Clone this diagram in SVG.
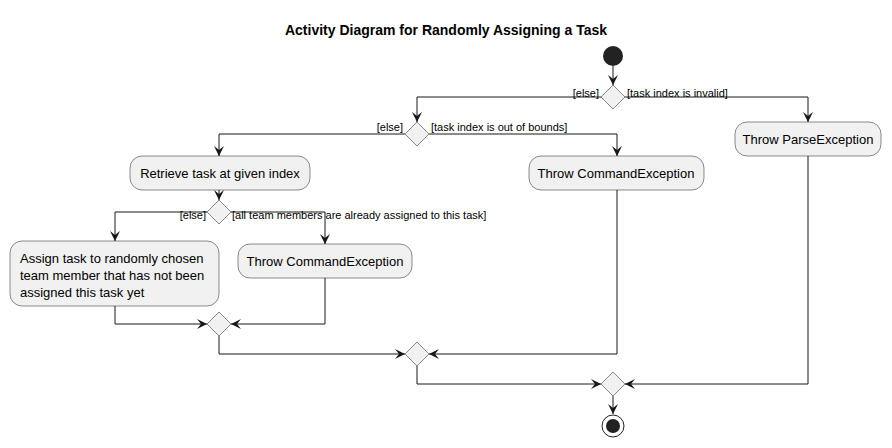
<svg xmlns="http://www.w3.org/2000/svg" width="892" height="448" viewBox="0 0 892 448">
<defs>
<style>
.t{font-family:"Liberation Sans",Arial,sans-serif;font-size:13px;fill:#000}
.g{font-family:"Liberation Sans",Arial,sans-serif;font-size:11px;fill:#000}
.b{fill:#F1F1F1;stroke:#181818;stroke-width:0.5}
.c{fill:none;stroke:#181818;stroke-width:1}
</style>
<marker id="a" viewBox="0 0 10 10" refX="10" refY="5" markerWidth="10" markerHeight="10" markerUnits="userSpaceOnUse" orient="auto"><path d="M0,0 L10,5 L0,10 L4,5 Z" fill="#181818"/></marker>
</defs>
<rect width="892" height="448" fill="#fff"/>
<text x="446" y="35" text-anchor="middle" style="font-family:'Liberation Sans',Arial,sans-serif;font-size:14px;font-weight:bold">Activity Diagram for Randomly Assigning a Task</text>
<g id="connectors" class="c">
<path d="M613,66 V85" marker-end="url(#a)"/>
<path d="M601,97 H417 V122" marker-end="url(#a)"/>
<path d="M625,97 H808 V122" marker-end="url(#a)"/>
<path d="M405,134 H219 V156" marker-end="url(#a)"/>
<path d="M429,134 H617 V156" marker-end="url(#a)"/>
<path d="M219,190 V200" marker-end="url(#a)"/>
<path d="M207,212 H115 V241" marker-end="url(#a)"/>
<path d="M231,212 H325 V244" marker-end="url(#a)"/>
<path d="M115,306 V324 H207" marker-end="url(#a)"/>
<path d="M325,278 V324 H231" marker-end="url(#a)"/>
<path d="M219,336 V354 H405" marker-end="url(#a)"/>
<path d="M617,190 V354 H429" marker-end="url(#a)"/>
<path d="M417,366 V384 H601" marker-end="url(#a)"/>
<path d="M808,156 V384 H625" marker-end="url(#a)"/>
<path d="M613,396 V414" marker-end="url(#a)"/>
</g>
<g id="labels">
<text class="g" x="599" y="97" text-anchor="end">[else]</text>
<text class="g" x="627" y="97">[task index is invalid]</text>
<text class="g" x="403" y="131" text-anchor="end">[else]</text>
<text class="g" x="431" y="131">[task index is out of bounds]</text>
<text class="g" x="206" y="219" text-anchor="end">[else]</text>
<text class="g" x="232" y="219">[all team members are already assigned to this task]</text>
</g>
<g id="start"><circle cx="613" cy="56" r="10" fill="#222"/></g>
<g id="d1"><path class="b" d="M613,85 L625,97 L613,109 L601,97 Z"/></g>
<g id="d2"><path class="b" d="M417,122 L429,134 L417,146 L405,134 Z"/></g>
<g id="d3"><path class="b" d="M219,200 L231,212 L219,224 L207,212 Z"/></g>
<g id="d4"><path class="b" d="M219,312 L231,324 L219,336 L207,324 Z"/></g>
<g id="d5"><path class="b" d="M417,342 L429,354 L417,366 L405,354 Z"/></g>
<g id="d6"><path class="b" d="M613,372 L625,384 L613,396 L601,384 Z"/></g>
<g id="parse"><rect class="b" x="735" y="122" width="146" height="34" rx="12"/><text class="t" x="808" y="144" text-anchor="middle">Throw ParseException</text></g>
<g id="retrieve"><rect class="b" x="130" y="156" width="180" height="34" rx="12"/><text class="t" x="220" y="178" text-anchor="middle">Retrieve task at given index</text></g>
<g id="cmd1"><rect class="b" x="529" y="156" width="175" height="34" rx="12"/><text class="t" x="616" y="178" text-anchor="middle">Throw CommandException</text></g>
<g id="assign"><rect class="b" x="10" y="241" width="209" height="65" rx="12"/><text class="t" x="20" y="263">Assign task to randomly chosen</text><text class="t" x="20" y="280">team member that has not been</text><text class="t" x="20" y="297">assigned this task yet</text></g>
<g id="cmd2"><rect class="b" x="238" y="244" width="174" height="34" rx="12"/><text class="t" x="325" y="266" text-anchor="middle">Throw CommandException</text></g>
<g id="end"><circle cx="613" cy="426" r="11" fill="none" stroke="#222" stroke-width="1"/><circle cx="613" cy="426" r="7" fill="#222"/></g>
</svg>
